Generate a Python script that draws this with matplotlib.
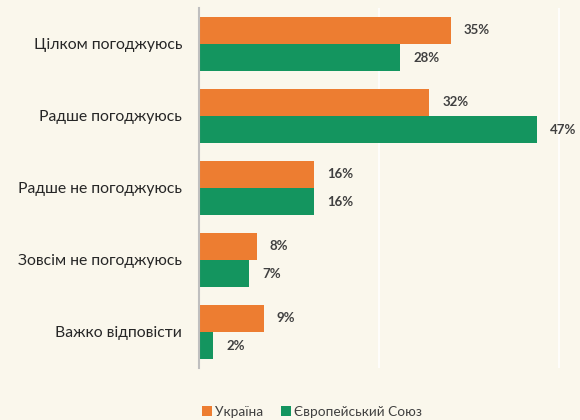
import matplotlib
matplotlib.use("Agg")
import matplotlib.pyplot as plt
import numpy as np

categories = ["Цілком погоджуюсь", "Радше погоджуюсь", "Радше не погоджуюсь",
              "Зовсім не погоджуюсь", "Важко відповісти"]
ukraine = [35, 32, 16, 8, 9]
eu = [28, 47, 16, 7, 2]
series_names = ["Україна", "Європейський Союз"]

bg = "#FAF7EC"
c_orange = "#ED7D31"
c_green = "#14955F"

plt.rcParams['font.family'] = ['Lato', 'Open Sans', 'DejaVu Sans']

fig = plt.figure(figsize=(5.8, 4.2), dpi=100, facecolor=bg)
ax = fig.add_axes([199/580, 1-368/420, (573-199)/580, 360/420])
ax.set_facecolor(bg)

y = np.arange(len(categories))
h = 0.375
ua_vals = np.array(ukraine) / 100
eu_vals = np.array(eu) / 100
b1 = ax.barh(y - h/2, ua_vals, height=h, color=c_orange, label=series_names[0])
b2 = ax.barh(y + h/2, eu_vals, height=h, color=c_green, label=series_names[1])

for bars, vals in ((b1, ukraine), (b2, eu)):
    for bar, v in zip(bars, vals):
        ax.annotate(f"{v}%", (bar.get_width(), bar.get_y() + bar.get_height()/2),
                    xytext=(9.5, 0), textcoords="offset points", va="center", ha="left",
                    fontsize=9.5, fontweight="bold", color="#404040")

ax.set_ylim(len(categories) - 0.5, -0.5)
ax.set_xlim(0, 0.52)
ax.set_yticks(y)
ax.set_yticklabels(categories, fontsize=11.3, color="#262626")
ax.tick_params(axis="y", length=0, pad=12)
ax.set_xticks([0.25, 0.5])
ax.tick_params(axis="x", length=0, labelbottom=False)
ax.grid(axis="x", color="#FFFFFF", linewidth=1.2)
ax.set_axisbelow(True)
for s in ("top", "right", "bottom"):
    ax.spines[s].set_visible(False)
ax.spines["left"].set_color("#BFBFBF")
ax.spines["left"].set_linewidth(1.5)

leg = fig.legend(handles=[b1, b2], labels=series_names, loc="center",
                 bbox_to_anchor=(312/580, 1-412/420), ncol=2, frameon=False,
                 fontsize=9.8, handlelength=0.75, handleheight=0.75, handletextpad=0.2,
                 columnspacing=1.3)
for t in leg.get_texts():
    t.set_color("#404040")

fig.savefig("out.png", dpi=100, facecolor=bg)
